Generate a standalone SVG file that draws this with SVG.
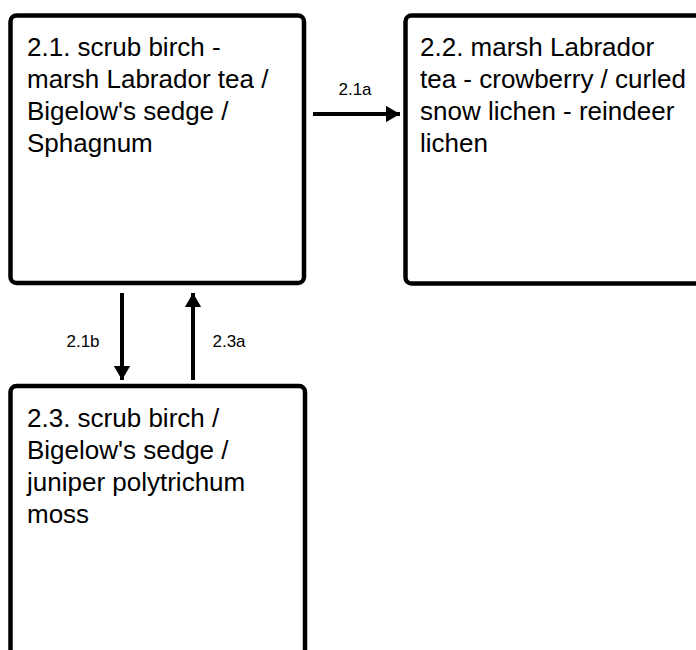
<svg xmlns="http://www.w3.org/2000/svg" width="696" height="650" viewBox="0 0 696 650">
<defs>
<style>
.box{fill:#fff;stroke:#000;stroke-width:4.5}
.t{font-family:"Liberation Sans",Arial,sans-serif;font-size:26px;fill:#000}
.lbl{font-family:"Liberation Sans",Arial,sans-serif;font-size:17px;fill:#000}
.edge{stroke:#000;stroke-width:4;fill:none;marker-end:url(#ah)}
</style>
<marker id="ah" viewBox="0 0 10 10" refX="10" refY="5" markerWidth="3.6" markerHeight="4.2" markerUnits="strokeWidth" orient="auto" preserveAspectRatio="none">
<path d="M0,0 L10,5 L0,10 z" fill="#000"/>
</marker>
</defs>
<rect width="696" height="650" fill="#fff"/>
<g id="node-2-1">
<rect class="box" x="10.5" y="15.5" width="293.5" height="267.5" rx="6"/>
<text class="t" x="27" y="56">2.1. scrub birch -</text>
<text class="t" x="27" y="88">marsh Labrador tea /</text>
<text class="t" x="27" y="120">Bigelow's sedge /</text>
<text class="t" x="27" y="152">Sphagnum</text>
</g>
<g id="node-2-2">
<rect class="box" x="405.5" y="15.5" width="300" height="268" rx="6"/>
<text class="t" x="420" y="56">2.2. marsh Labrador</text>
<text class="t" x="420" y="88">tea - crowberry / curled</text>
<text class="t" x="420" y="120">snow lichen - reindeer</text>
<text class="t" x="420" y="152">lichen</text>
</g>
<g id="node-2-3">
<rect class="box" x="10.5" y="386" width="294.5" height="300" rx="6"/>
<text class="t" x="27" y="427">2.3. scrub birch /</text>
<text class="t" x="27" y="459">Bigelow's sedge /</text>
<text class="t" x="27" y="491">juniper polytrichum</text>
<text class="t" x="27" y="523">moss</text>
</g>
<g id="connectors">
<line class="edge" x1="313" y1="114" x2="400" y2="114"/>
<text class="lbl" x="355" y="95" text-anchor="middle">2.1a</text>
<line class="edge" x1="122" y1="293" x2="122" y2="380"/>
<text class="lbl" x="83" y="347" text-anchor="middle">2.1b</text>
<line class="edge" x1="193" y1="380" x2="193" y2="293"/>
<text class="lbl" x="229" y="347" text-anchor="middle">2.3a</text>
</g>
</svg>
